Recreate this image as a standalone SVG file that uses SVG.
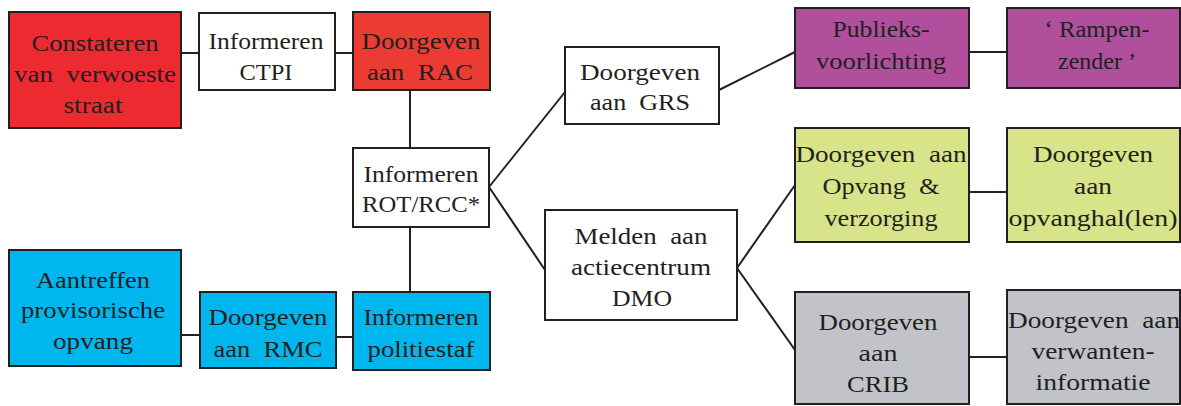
<svg xmlns="http://www.w3.org/2000/svg" width="1181" height="406" viewBox="0 0 1181 406">
<style>
rect{stroke:#231f20;stroke-width:2}
.red{fill:#ec2a30}.red2{fill:#ec3b32}.wh{fill:#fff}.bl{fill:#00b6ee}.pu{fill:#b04f9b}.gr{fill:#d7e48a}.gy{fill:#c1c3c9}
text{font-family:"Liberation Serif","Times New Roman",serif;font-size:24px;fill:#231f20;text-anchor:middle;white-space:pre}
#connectors line{stroke:#231f20;stroke-width:2}
</style>
<g id="connectors">
<line x1="181" y1="53" x2="199" y2="53"/>
<line x1="335" y1="53" x2="353" y2="53"/>
<line x1="410" y1="90" x2="410" y2="148"/>
<line x1="410" y1="227" x2="410" y2="292"/>
<line x1="181" y1="335" x2="200" y2="335"/>
<line x1="336" y1="337" x2="353" y2="337"/>
<line x1="489" y1="187" x2="565" y2="92"/>
<line x1="489" y1="187" x2="545" y2="270"/>
<line x1="719" y1="90" x2="795" y2="52"/>
<line x1="737" y1="268" x2="795" y2="185"/>
<line x1="737" y1="268" x2="795" y2="350"/>
<line x1="969" y1="52" x2="1007" y2="52"/>
<line x1="969" y1="192" x2="1007" y2="192"/>
<line x1="969" y1="357" x2="1007" y2="357"/>
</g>
<g id="constateren"><rect class="red" x="9" y="12" width="172" height="116"/>
<text x="95" y="51" textLength="127" lengthAdjust="spacingAndGlyphs">Constateren</text>
<text x="95" y="82" textLength="162" lengthAdjust="spacingAndGlyphs" xml:space="preserve">van  verwoeste</text>
<text x="93" y="113" textLength="59" lengthAdjust="spacingAndGlyphs">straat</text></g>
<g id="ctpi"><rect class="wh" x="199" y="13" width="136" height="77"/>
<text x="266" y="49" textLength="115" lengthAdjust="spacingAndGlyphs">Informeren</text>
<text x="266" y="80" textLength="53" lengthAdjust="spacingAndGlyphs">CTPI</text></g>
<g id="rac"><rect class="red2" x="353" y="12" width="137" height="78"/>
<text x="421" y="49" textLength="119" lengthAdjust="spacingAndGlyphs">Doorgeven</text>
<text x="420" y="80" textLength="106" lengthAdjust="spacingAndGlyphs" xml:space="preserve">aan  RAC</text></g>
<g id="rot"><rect class="wh" x="353" y="148" width="136" height="79"/>
<text x="421" y="182" textLength="115" lengthAdjust="spacingAndGlyphs">Informeren</text>
<text x="421" y="212" textLength="118" lengthAdjust="spacingAndGlyphs">ROT/RCC*</text></g>
<g id="politiestaf"><rect class="bl" x="353" y="292" width="137" height="78"/>
<text x="421" y="325" textLength="115" lengthAdjust="spacingAndGlyphs">Informeren</text>
<text x="421" y="357" textLength="107" lengthAdjust="spacingAndGlyphs">politiestaf</text></g>
<g id="rmc"><rect class="bl" x="200" y="292" width="136" height="76"/>
<text x="268" y="325" textLength="119" lengthAdjust="spacingAndGlyphs">Doorgeven</text>
<text x="268" y="357" textLength="109" lengthAdjust="spacingAndGlyphs" xml:space="preserve">aan  RMC</text></g>
<g id="aantreffen"><rect class="bl" x="9" y="250" width="172" height="116"/>
<text x="93" y="288" textLength="114" lengthAdjust="spacingAndGlyphs">Aantreffen</text>
<text x="93" y="318" textLength="144" lengthAdjust="spacingAndGlyphs">provisorische</text>
<text x="93" y="349" textLength="80" lengthAdjust="spacingAndGlyphs">opvang</text></g>
<g id="grs"><rect class="wh" x="565" y="47" width="154" height="77"/>
<text x="640" y="80" textLength="120" lengthAdjust="spacingAndGlyphs">Doorgeven</text>
<text x="640" y="110" textLength="100" lengthAdjust="spacingAndGlyphs" xml:space="preserve">aan  GRS</text></g>
<g id="dmo"><rect class="wh" x="545" y="210" width="192" height="110"/>
<text x="641" y="244" textLength="133" lengthAdjust="spacingAndGlyphs" xml:space="preserve">Melden  aan</text>
<text x="641" y="275" textLength="140" lengthAdjust="spacingAndGlyphs">actiecentrum</text>
<text x="642" y="306" textLength="60" lengthAdjust="spacingAndGlyphs">DMO</text></g>
<g id="publieks"><rect class="pu" x="795" y="8" width="174" height="80"/>
<text x="881" y="37" textLength="97" lengthAdjust="spacingAndGlyphs">Publieks-</text>
<text x="881" y="69" textLength="130" lengthAdjust="spacingAndGlyphs">voorlichting</text></g>
<g id="rampen"><rect class="pu" x="1007" y="8" width="173" height="80"/>
<text x="1097" y="37" textLength="105" lengthAdjust="spacingAndGlyphs">‘ Rampen-</text>
<text x="1097" y="69" textLength="78" lengthAdjust="spacingAndGlyphs">zender ’</text></g>
<g id="opvang"><rect class="gr" x="795" y="128" width="174" height="114"/>
<text x="881" y="162" textLength="171" lengthAdjust="spacingAndGlyphs" xml:space="preserve">Doorgeven  aan</text>
<text x="881" y="194" textLength="117" lengthAdjust="spacingAndGlyphs" xml:space="preserve">Opvang  &amp;</text>
<text x="881" y="226" textLength="113" lengthAdjust="spacingAndGlyphs">verzorging</text></g>
<g id="opvanghal"><rect class="gr" x="1007" y="128" width="173" height="114"/>
<text x="1093" y="162" textLength="120" lengthAdjust="spacingAndGlyphs">Doorgeven</text>
<text x="1093" y="194" textLength="38" lengthAdjust="spacingAndGlyphs">aan</text>
<text x="1093" y="226" textLength="169" lengthAdjust="spacingAndGlyphs">opvanghal(len)</text></g>
<g id="crib"><rect class="gy" x="795" y="292" width="174" height="112"/>
<text x="878" y="330" textLength="119" lengthAdjust="spacingAndGlyphs">Doorgeven</text>
<text x="878" y="361" textLength="39" lengthAdjust="spacingAndGlyphs">aan</text>
<text x="878" y="392" textLength="62" lengthAdjust="spacingAndGlyphs">CRIB</text></g>
<g id="verwanten"><rect class="gy" x="1007" y="290" width="173" height="114"/>
<text x="1094" y="328" textLength="172" lengthAdjust="spacingAndGlyphs" xml:space="preserve">Doorgeven  aan</text>
<text x="1093" y="359" textLength="123" lengthAdjust="spacingAndGlyphs">verwanten-</text>
<text x="1093" y="390" textLength="115" lengthAdjust="spacingAndGlyphs">informatie</text></g>
</svg>
